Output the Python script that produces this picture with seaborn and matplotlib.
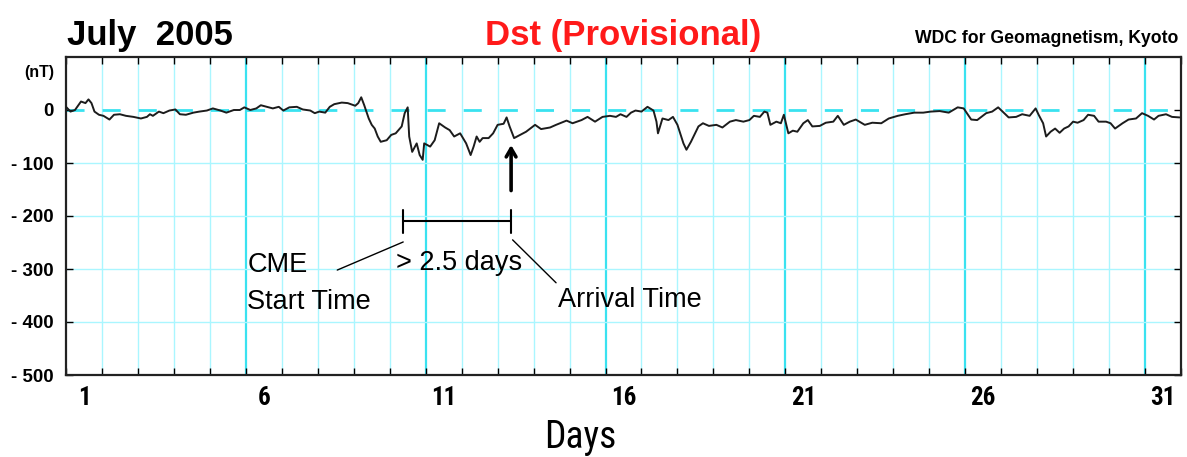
import numpy as np
import pandas as pd
import matplotlib
matplotlib.use("Agg")
import matplotlib.pyplot as plt
from matplotlib import font_manager
from matplotlib.font_manager import FontProperties
import seaborn as sns

# Hourly Dst samples for July 2005 (hour of month, nT)
hours = [0, 3, 6, 10, 13, 15, 17, 19, 22, 25, 29, 32, 36, 40, 45, 50, 54, 56, 58, 62,
         65, 69, 73, 76, 80, 85, 89, 94, 98, 103, 107, 112, 116, 119, 123, 127, 130, 134, 138, 142,
         145, 149, 154, 158, 163, 166, 169, 173, 176, 179, 184, 188, 193, 195, 197, 199, 202, 204, 206, 208,
         210, 214, 217, 220, 224, 226, 228, 229, 231, 234, 236, 238, 239, 243, 246, 249, 253, 256, 259, 263,
         267, 270, 272, 274, 276, 278, 282, 285, 288, 292, 294, 296, 299, 303, 307, 313, 317, 323, 327, 334,
         338, 344, 348, 353, 358, 363, 367, 370, 374, 377, 380, 384, 388, 392, 394, 395, 398, 402, 405, 408,
         412, 414, 417, 422, 425, 429, 434, 438, 443, 447, 452, 456, 459, 463, 466, 468, 470, 474, 477, 479,
         482, 485, 488, 492, 495, 498, 503, 507, 512, 515, 519, 523, 527, 533, 538, 544, 549, 555, 560, 566,
         572, 577, 583, 589, 595, 599, 604, 608, 614, 618, 622, 626, 629, 634, 638, 643, 647, 649, 652, 654,
         657, 660, 663, 666, 669, 672, 675, 679, 682, 686, 689, 694, 697, 700, 705, 709, 714, 718, 722, 726,
         729, 734, 738, 743]
dst_nt = [6, -3, 0, 16, 13, 20, 13, -3, -9, -11, -18, -9, -8, -11, -13, -16, -13, -8, -11, -3,
          -6, -1, 1, -8, -9, -5, -3, -1, 3, -1, -5, 0, 0, 5, 0, 3, 9, 6, 3, 6,
          -1, 5, 6, 1, -1, -6, -3, -5, 6, 11, 14, 13, 8, 13, 24, 9, -16, -28, -35, -50,
          -60, -57, -47, -44, -31, -6, 5, -50, -79, -63, -85, -94, -63, -69, -57, -25, -33, -38, -50, -44,
          -63, -85, -69, -50, -60, -53, -53, -44, -28, -26, -14, -31, -53, -47, -41, -28, -36, -33, -28, -20,
          -25, -19, -13, -22, -13, -11, -13, -8, -13, -5, -1, -3, 6, -1, -22, -44, -16, -19, -13, -28,
          -63, -75, -60, -31, -25, -30, -28, -33, -22, -19, -22, -19, -11, -13, -3, -5, -28, -22, -25, -9,
          -44, -39, -41, -25, -19, -31, -30, -24, -22, -11, -28, -22, -18, -28, -24, -25, -16, -11, -8, -5,
          -5, -3, -2, -5, 5, 3, -18, -19, -6, -3, 5, -6, -14, -13, -8, -11, 3, -9, -25, -50,
          -41, -35, -43, -35, -31, -22, -24, -19, -9, -11, -22, -22, -25, -35, -25, -18, -16, -6, -11, -18,
          -11, -8, -13, -14]

day_label_values = [1, 6, 11, 16, 21, 26, 31]
y_tick_values = [0, -100, -200, -300, -400, -500]
y_tick_labels = ["0", "- 100", "- 200", "- 300", "- 400", "- 500"]

# Event timing (hour of month)
cme_start_hour = 225
arrival_hour = 297

sns.set_style("white")
plt.rcParams["font.family"] = ["Liberation Sans", "DejaVu Sans"]
plt.rcParams["lines.scale_dashes"] = False
for key in ("text.color", "axes.labelcolor", "xtick.color", "ytick.color"):
    plt.rcParams[key] = "black"


def condensed_font(size, weight="normal"):
    """Pick a narrow sans face if one is installed."""
    entries = font_manager.fontManager.ttflist
    for name in ("Liberation Sans Narrow", "Roboto Condensed", "Open Sans Condensed",
                 "Noto Sans Condensed", "DejaVu Sans Condensed"):
        if any(f.name == name for f in entries):
            return FontProperties(family=name, size=size, weight=weight)
    for f in entries:
        if f.name in ("DejaVu Sans", "Noto Sans", "Open Sans", "Roboto") and \
                str(f.stretch) in ("condensed", "semi-condensed", "extra-condensed") and \
                f.style == "normal" and \
                ((weight == "bold") == (f.weight in ("bold", 700))):
            return FontProperties(fname=f.fname, size=size)
    return FontProperties(family="Liberation Sans", size=size * 0.88, weight=weight)


W, H = 1187, 457
fig = plt.figure(figsize=(W / 100, H / 100), dpi=100)
ax = fig.add_axes([66 / W, 1 - 375 / H, (1181 - 66) / W, (375 - 57) / H])

light = "#aaf6ff"
bright = "#3ae2f0"
for k in range(1, 31):
    if k % 5 == 0:
        ax.axvline(24 * k, color=bright, lw=1.6, zorder=0)
    else:
        ax.axvline(24 * k, color=light, lw=1.0, zorder=0)
for v in (-100, -200, -300, -400):
    ax.axhline(v, color=light, lw=1.0, zorder=0)
ax.axhline(0, color=bright, lw=2.0, dashes=(13, 13), zorder=0)

df = pd.DataFrame({"hour": hours, "dst": dst_nt})
sns.lineplot(data=df, x="hour", y="dst", ax=ax, color="#1c1c1c", lw=1.4, zorder=3)

ax.set_xlim(0, 744)
ax.set_ylim(-500, 100)
ax.set_xlabel("")
ax.set_ylabel("")

# day boundaries carry the tick marks, day centres carry the labels
ax.set_xticks(np.arange(0, 745, 24))
ax.set_xticklabels([])
ax.set_xticks([24 * (d - 1) + 12 for d in day_label_values], minor=True)
ax.set_xticklabels([str(d) for d in day_label_values], minor=True,
                   fontproperties=condensed_font(18, "bold"))
ax.tick_params(axis="x", which="major", direction="in", length=5, width=1,
               top=True, bottom=True, color="black")
ax.tick_params(axis="x", which="minor", length=0, pad=8)

ax.set_yticks(y_tick_values)
ax.set_yticklabels(y_tick_labels, fontsize=13.5, fontweight="bold")
ax.tick_params(axis="y", direction="in", length=5, width=1, left=True, right=True,
               color="black", pad=9)

for s in ax.spines.values():
    s.set_color("#222222")
    s.set_linewidth(1.6)
    s.set_visible(True)

# titles
fig.text(67 / W, 1 - 45 / H, "July  2005", ha="left", va="baseline",
         fontsize=25, fontweight="bold", color="black")
fig.text(623 / W, 1 - 45 / H, "Dst (Provisional)", ha="center", va="baseline",
         fontsize=25, fontweight="bold", color="#ff1a1a")
fig.text(1178 / W, 1 - 43 / H, "WDC for Geomagnetism, Kyoto", ha="right", va="baseline",
         fontsize=12.7, fontweight="bold", color="black")
fig.text(39 / W, 1 - 73 / H, "(nT)", ha="center", va="center",
         fontsize=11.5, fontweight="bold")
fig.text(580 / W, 1 - 437 / H, "Days", ha="center", va="center",
         fontproperties=condensed_font(27))

# CME transit annotations
ax.annotate("", xy=(arrival_hour, -66), xytext=(arrival_hour, -152),
            arrowprops=dict(arrowstyle="->,head_length=0.6,head_width=0.35",
                            lw=2.6, color="black", shrinkA=0, shrinkB=0))
ax.plot([cme_start_hour, arrival_hour], [-209, -209], color="black", lw=1.5)
ax.plot([cme_start_hour, cme_start_hour], [-189, -233], color="black", lw=1.5)
ax.plot([arrival_hour, arrival_hour], [-189, -233], color="black", lw=1.5)
ax.plot([181, cme_start_hour], [-302, -249], color="black", lw=1.0)
ax.plot([arrival_hour + 1, 327], [-245, -326], color="black", lw=1.0)

ax.text(262, -288, "> 2.5 days", ha="center", va="center", fontsize=19.5)
ax.text(121, -292, "CME", ha="left", va="center", fontsize=19.5)
ax.text(121, -362, "Start Time", ha="left", va="center", fontsize=19.5)
ax.text(328, -358, "Arrival Time", ha="left", va="center", fontsize=19.5)

fig.savefig("out.png", dpi=100)
